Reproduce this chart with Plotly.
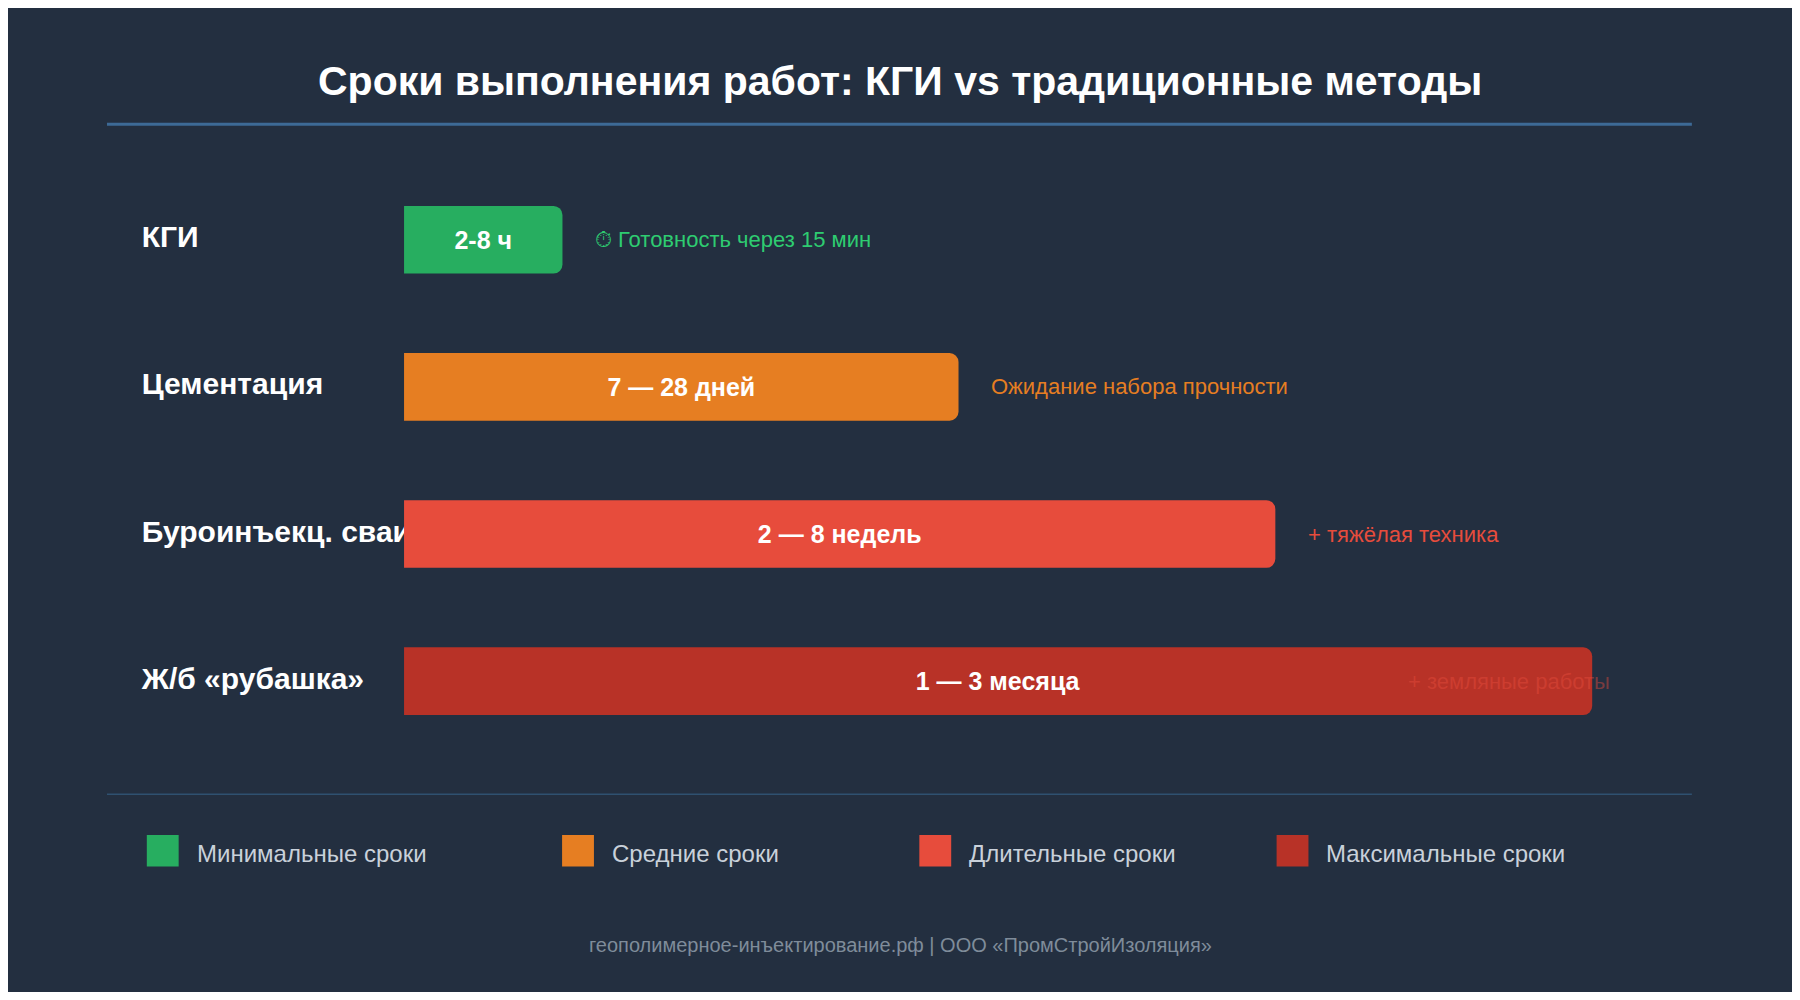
import plotly.graph_objects as go

methods = ['КГИ', 'Цементация', 'Буроинъекц. сваи', 'Ж/б «рубашка»']
durations = [1.0, 3.5, 5.5, 7.5]  # relative length of the bar
bar_labels = ['2-8 ч', '7 — 28 дней', '2 — 8 недель', '1 — 3 месяца']
notes = ['⏱ Готовность через 15 мин', 'Ожидание набора прочности',
         '+ тяжёлая техника', '+ земляные работы']
colors = ['#27ae60', '#e67e22', '#e74c3c', '#b83227']
note_colors = ['#2ecc71', '#e67e22', '#e74c3c', 'rgba(231,76,60,0.45)']
legend_names = ['Минимальные сроки', 'Средние сроки', 'Длительные сроки', 'Максимальные сроки']

FONT = 'Liberation Sans, Arial, sans-serif'
# x scale: 0 sits at 22.2% of width, 7.5 at 88.8%
k = 7.5 / 0.666
xr = [-0.222 * k, 0.778 * k]

fig = go.Figure()

# method names under the bars (base subplot)
fig.add_trace(go.Scatter(
    x=[xr[0] + 0.075 * k] * 4, y=methods, mode='text', text=methods,
    textposition='middle right', cliponaxis=False,
    textfont=dict(family=FONT, size=30, color='white', weight='bold'),
    hoverinfo='skip', showlegend=False, xaxis='x', yaxis='y'))

fig.add_trace(go.Bar(
    x=durations, y=methods, orientation='h', xaxis='x2', yaxis='y',
    marker=dict(color=colors, cornerradius=9, line=dict(width=0)),
    width=0.46, text=bar_labels, textposition='inside', insidetextanchor='middle',
    textfont=dict(family=FONT, size=25, color='white', weight='bold'),
    hoverinfo='skip', showlegend=False))

annotations = []
for i, (d, n, c) in enumerate(zip(durations, notes, note_colors)):
    px = 0.222 + d / k + 27 / 1568
    if i == 3:
        px = 1229 / 1568
    annotations.append(dict(x=px, xref='paper', y=methods[i], yref='y', text=n,
                            xanchor='left', showarrow=False,
                            font=dict(family=FONT, size=22, color=c)))

annotations.append(dict(x=0.5, y=1 - 65 / 871, xref='paper', yref='paper', showarrow=False,
                        yanchor='middle',
                        text='<b>Сроки выполнения работ: КГИ vs традиционные методы</b>',
                        font=dict(family=FONT, size=41, color='white')))
annotations.append(dict(x=0.5, y=1 - 829 / 871, xref='paper', yref='paper', showarrow=False,
                        yanchor='middle',
                        text='геополимерное-инъектирование.рф | ООО «ПромСтройИзоляция»',
                        font=dict(family=FONT, size=20, color='#7f8c9a')))

shapes = [
    dict(type='line', xref='paper', yref='paper', x0=87 / 1568, x1=1480 / 1568,
         y0=1 - 103 / 871, y1=1 - 103 / 871, line=dict(color='#3d6a96', width=3)),
    dict(type='line', xref='paper', yref='paper', x0=87 / 1568, x1=1480 / 1568,
         y0=1 - 696 / 871, y1=1 - 696 / 871, line=dict(color='#2f5170', width=1.5)),
]
legend_x = [122, 487, 801, 1115]
for lx, name, c in zip(legend_x, legend_names, colors):
    x0 = lx / 1568
    shapes.append(dict(type='rect', xref='paper', yref='paper', x0=x0, x1=x0 + 28 / 1568,
                       y0=1 - 760 / 871, y1=1 - 732 / 871, fillcolor=c,
                       line=dict(width=0)))
    annotations.append(dict(x=x0 + 42 / 1568, y=1 - 748 / 871, xref='paper', yref='paper',
                            xanchor='left', yanchor='middle', showarrow=False, text=name,
                            font=dict(family=FONT, size=24, color='#c9d1da')))

fig.update_layout(
    width=1784, height=984,
    margin=dict(l=0, r=0, t=0, b=0),
    paper_bgcolor='#232f40', plot_bgcolor='rgba(0,0,0,0)',
    xaxis=dict(domain=[0, 1], range=xr, visible=False, fixedrange=True),
    xaxis2=dict(overlaying='x', range=xr, visible=False, anchor='y', fixedrange=True),
    yaxis=dict(domain=[1 - (596 + 65) / 871, 1 - (205 - 65) / 871], autorange='reversed',
               visible=False, fixedrange=True),
    annotations=annotations, shapes=shapes,
    showlegend=False,
)

fig.write_html('out.html')
